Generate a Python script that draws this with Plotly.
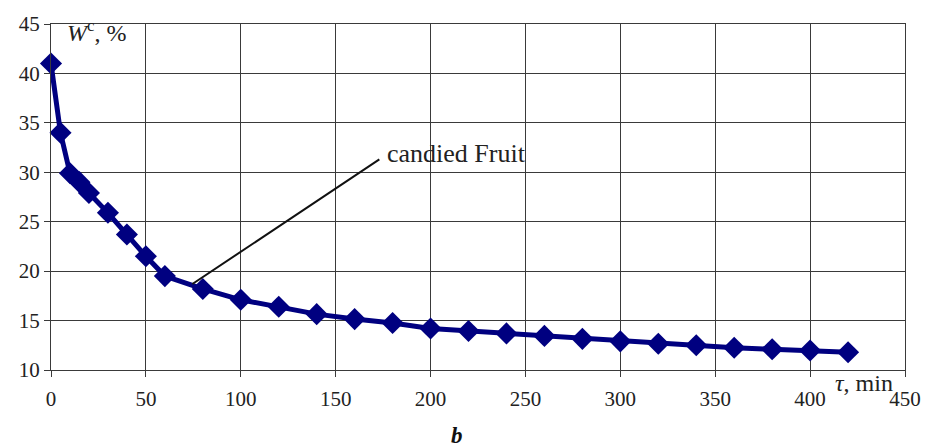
import plotly.graph_objects as go

time_min = [0, 5, 10, 15, 20, 30, 40, 50, 60, 80, 100, 120, 140, 160, 180, 200,
            220, 240, 260, 280, 300, 320, 340, 360, 380, 400, 420]
moisture = [41.0, 34.0, 29.9, 29.0, 27.9, 25.9, 23.7, 21.5, 19.5, 18.2, 17.1, 16.4,
            15.65, 15.15, 14.75, 14.2, 13.95, 13.7, 13.45, 13.15, 12.9, 12.65, 12.5,
            12.25, 12.1, 11.97, 11.8]
x_ticks = [0, 50, 100, 150, 200, 250, 300, 350, 400, 450]
y_ticks = [10, 15, 20, 25, 30, 35, 40, 45]

FONT = "Liberation Serif"
NAVY = "#000080"
GRID = "#3a3a3a"

fig = go.Figure()
fig.add_trace(go.Scatter(
    x=time_min, y=moisture, mode="lines+markers",
    line=dict(color=NAVY, width=5),
    marker=dict(symbol="diamond", size=17, color=NAVY),
    showlegend=False, cliponaxis=False,
))

fig.update_layout(
    width=933, height=447,
    margin=dict(l=51, r=25, t=15, b=77),
    paper_bgcolor="white", plot_bgcolor="white",
    font=dict(family=FONT, size=20, color="#222222"),
    xaxis=dict(range=[0, 450], tickvals=x_ticks, showgrid=True, gridcolor=GRID, gridwidth=1.2,
               showline=True, linecolor=GRID, linewidth=1.2, mirror=True,
               ticks="outside", ticklen=6, tickcolor=GRID, zeroline=False,
               ticklabelstandoff=4, tickfont=dict(family=FONT, size=21)),
    yaxis=dict(range=[10, 45], tickvals=y_ticks, showgrid=True, gridcolor=GRID, gridwidth=1.2,
               showline=True, linecolor=GRID, linewidth=1.2, mirror=True,
               ticks="outside", ticklen=6, tickcolor=GRID, zeroline=False,
               tickfont=dict(family=FONT, size=21)),
    annotations=[
        dict(x=74.5, y=18.7, ax=173.8, ay=31.4, xref="x", yref="y", axref="x", ayref="y",
             text="", showarrow=True, arrowhead=0, arrowwidth=2, arrowcolor="#111111"),
        dict(x=176, y=31.9, xref="x", yref="y", text="candied Fruit", showarrow=False,
             xanchor="left", yanchor="middle", font=dict(family=FONT, size=26, color="#222222")),
        dict(x=7.5, y=44.3, xref="x", yref="y", text="<i>W</i><sup>c</sup>, %", showarrow=False,
             xanchor="left", yanchor="middle", font=dict(family=FONT, size=24, color="#222222")),
        dict(x=412, y=10, xref="x", yref="y", text="<i>τ</i>, min", showarrow=False,
             xanchor="left", yanchor="middle", yshift=-13, font=dict(family=FONT, size=24, color="#222222")),
        dict(x=0.475, y=-0.188, xref="paper", yref="paper", text="<b><i>b</i></b>", showarrow=False,
             xanchor="center", yanchor="middle", font=dict(family=FONT, size=23, color="#111111")),
    ],
)

fig.write_html("out.html")
